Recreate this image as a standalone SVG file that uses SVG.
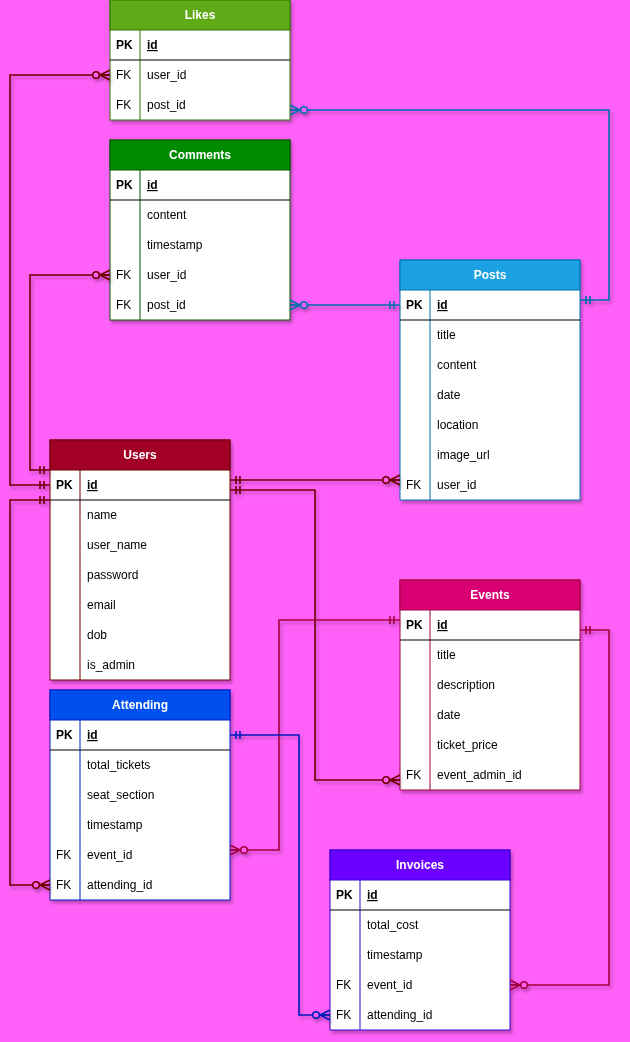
<svg xmlns="http://www.w3.org/2000/svg" width="630" height="1042" viewBox="0 0 630 1042">
<style>
text{font-family:"Liberation Sans",Arial,sans-serif;font-size:12px;fill:#000}
.h{fill:#fff;font-weight:bold;text-anchor:middle}
.k{font-weight:bold}
.u{font-weight:bold;text-decoration:underline}
.body{fill:#fff}
.sep{stroke:#000;stroke-width:1}
.c{fill:none;stroke-width:1.6}
</style>
<defs>
<filter id="sh" x="-10%" y="-10%" width="130%" height="130%">
<feDropShadow dx="2" dy="3" stdDeviation="1.5" flood-color="#000" flood-opacity="0.25"/>
</filter>
<marker id="m-r" viewBox="0 0 20 12" refX="20" refY="6" markerWidth="20" markerHeight="12" markerUnits="userSpaceOnUse" orient="auto-start-reverse"><path d="M10,6L20,1M10,6L20,11M10,6L20,6" fill="none" stroke="#6F0000" stroke-width="1.6"/><circle cx="6" cy="6" r="3.3" fill="#FF61F8" stroke="#6F0000" stroke-width="1.6"/></marker>
<marker id="o-r" viewBox="0 0 20 12" refX="20" refY="6" markerWidth="20" markerHeight="12" markerUnits="userSpaceOnUse" orient="auto-start-reverse"><path d="M10,2V10M14,2V10" fill="none" stroke="#6F0000" stroke-width="1.6"/></marker>
<marker id="m-e" viewBox="0 0 20 12" refX="20" refY="6" markerWidth="20" markerHeight="12" markerUnits="userSpaceOnUse" orient="auto-start-reverse"><path d="M10,6L20,1M10,6L20,11M10,6L20,6" fill="none" stroke="#A50040" stroke-width="1.6"/><circle cx="6" cy="6" r="3.3" fill="#FF61F8" stroke="#A50040" stroke-width="1.6"/></marker>
<marker id="o-e" viewBox="0 0 20 12" refX="20" refY="6" markerWidth="20" markerHeight="12" markerUnits="userSpaceOnUse" orient="auto-start-reverse"><path d="M10,2V10M14,2V10" fill="none" stroke="#A50040" stroke-width="1.6"/></marker>
<marker id="m-p" viewBox="0 0 20 12" refX="20" refY="6" markerWidth="20" markerHeight="12" markerUnits="userSpaceOnUse" orient="auto-start-reverse"><path d="M10,6L20,1M10,6L20,11M10,6L20,6" fill="none" stroke="#006EAF" stroke-width="1.6"/><circle cx="6" cy="6" r="3.3" fill="#FF61F8" stroke="#006EAF" stroke-width="1.6"/></marker>
<marker id="o-p" viewBox="0 0 20 12" refX="20" refY="6" markerWidth="20" markerHeight="12" markerUnits="userSpaceOnUse" orient="auto-start-reverse"><path d="M10,2V10M14,2V10" fill="none" stroke="#006EAF" stroke-width="1.6"/></marker>
<marker id="m-a" viewBox="0 0 20 12" refX="20" refY="6" markerWidth="20" markerHeight="12" markerUnits="userSpaceOnUse" orient="auto-start-reverse"><path d="M10,6L20,1M10,6L20,11M10,6L20,6" fill="none" stroke="#001DBC" stroke-width="1.6"/><circle cx="6" cy="6" r="3.3" fill="#FF61F8" stroke="#001DBC" stroke-width="1.6"/></marker>
<marker id="o-a" viewBox="0 0 20 12" refX="20" refY="6" markerWidth="20" markerHeight="12" markerUnits="userSpaceOnUse" orient="auto-start-reverse"><path d="M10,2V10M14,2V10" fill="none" stroke="#001DBC" stroke-width="1.6"/></marker>
</defs>
<rect x="0" y="0" width="630" height="1042" fill="#FF61F8"/>

<g id="likes" filter="url(#sh)">
<rect x="110" y="0" width="180" height="120" class="body" stroke="#2D7600"/>
<rect x="110" y="0" width="180" height="30" fill="#60A917" stroke="#2D7600"/>
<line x1="140" y1="30" x2="140" y2="120" stroke="#2D7600"/>
<line x1="110" y1="60" x2="290" y2="60" class="sep"/>
<text x="200" y="19" class="h">Likes</text>
<text x="116" y="49" class="k">PK</text><text x="147" y="49" class="u">id</text>
<text x="116" y="79">FK</text><text x="147" y="79">user_id</text>
<text x="116" y="109">FK</text><text x="147" y="109">post_id</text>
</g>

<g id="comments" filter="url(#sh)">
<rect x="110" y="140" width="180" height="180" class="body" stroke="#005700"/>
<rect x="110" y="140" width="180" height="30" fill="#008A00" stroke="#005700"/>
<line x1="140" y1="170" x2="140" y2="320" stroke="#005700"/>
<line x1="110" y1="200" x2="290" y2="200" class="sep"/>
<text x="200" y="159" class="h">Comments</text>
<text x="116" y="189" class="k">PK</text><text x="147" y="189" class="u">id</text>
<text x="147" y="219">content</text>
<text x="147" y="249">timestamp</text>
<text x="116" y="279">FK</text><text x="147" y="279">user_id</text>
<text x="116" y="309">FK</text><text x="147" y="309">post_id</text>
</g>

<g id="posts" filter="url(#sh)">
<rect x="400" y="260" width="180" height="240" class="body" stroke="#006EAF"/>
<rect x="400" y="260" width="180" height="30" fill="#1BA1E2" stroke="#006EAF"/>
<line x1="430" y1="290" x2="430" y2="500" stroke="#006EAF"/>
<line x1="400" y1="320" x2="580" y2="320" class="sep"/>
<text x="490" y="279" class="h">Posts</text>
<text x="406" y="309" class="k">PK</text><text x="437" y="309" class="u">id</text>
<text x="437" y="339">title</text>
<text x="437" y="369">content</text>
<text x="437" y="399">date</text>
<text x="437" y="429">location</text>
<text x="437" y="459">image_url</text>
<text x="406" y="489">FK</text><text x="437" y="489">user_id</text>
</g>

<g id="users" filter="url(#sh)">
<rect x="50" y="440" width="180" height="240" class="body" stroke="#6F0000"/>
<rect x="50" y="440" width="180" height="30" fill="#A20025" stroke="#6F0000"/>
<line x1="80" y1="470" x2="80" y2="680" stroke="#6F0000"/>
<line x1="50" y1="500" x2="230" y2="500" class="sep"/>
<text x="140" y="459" class="h">Users</text>
<text x="56" y="489" class="k">PK</text><text x="87" y="489" class="u">id</text>
<text x="87" y="519">name</text>
<text x="87" y="549">user_name</text>
<text x="87" y="579">password</text>
<text x="87" y="609">email</text>
<text x="87" y="639">dob</text>
<text x="87" y="669">is_admin</text>
</g>

<g id="attending" filter="url(#sh)">
<rect x="50" y="690" width="180" height="210" class="body" stroke="#001DBC"/>
<rect x="50" y="690" width="180" height="30" fill="#0050EF" stroke="#001DBC"/>
<line x1="80" y1="720" x2="80" y2="900" stroke="#001DBC"/>
<line x1="50" y1="750" x2="230" y2="750" class="sep"/>
<text x="140" y="709" class="h">Attending</text>
<text x="56" y="739" class="k">PK</text><text x="87" y="739" class="u">id</text>
<text x="87" y="769">total_tickets</text>
<text x="87" y="799">seat_section</text>
<text x="87" y="829">timestamp</text>
<text x="56" y="859">FK</text><text x="87" y="859">event_id</text>
<text x="56" y="889">FK</text><text x="87" y="889">attending_id</text>
</g>

<g id="events" filter="url(#sh)">
<rect x="400" y="580" width="180" height="210" class="body" stroke="#A50040"/>
<rect x="400" y="580" width="180" height="30" fill="#D80073" stroke="#A50040"/>
<line x1="430" y1="610" x2="430" y2="790" stroke="#A50040"/>
<line x1="400" y1="640" x2="580" y2="640" class="sep"/>
<text x="490" y="599" class="h">Events</text>
<text x="406" y="629" class="k">PK</text><text x="437" y="629" class="u">id</text>
<text x="437" y="659">title</text>
<text x="437" y="689">description</text>
<text x="437" y="719">date</text>
<text x="437" y="749">ticket_price</text>
<text x="406" y="779">FK</text><text x="437" y="779">event_admin_id</text>
</g>

<g id="invoices" filter="url(#sh)">
<rect x="330" y="850" width="180" height="180" class="body" stroke="#3700CC"/>
<rect x="330" y="850" width="180" height="30" fill="#6A00FF" stroke="#3700CC"/>
<line x1="360" y1="880" x2="360" y2="1030" stroke="#3700CC"/>
<line x1="330" y1="910" x2="510" y2="910" class="sep"/>
<text x="420" y="869" class="h">Invoices</text>
<text x="336" y="899" class="k">PK</text><text x="367" y="899" class="u">id</text>
<text x="367" y="929">total_cost</text>
<text x="367" y="959">timestamp</text>
<text x="336" y="989">FK</text><text x="367" y="989">event_id</text>
<text x="336" y="1019">FK</text><text x="367" y="1019">attending_id</text>
</g>

<g id="connectors" filter="url(#sh)">
<path d="M110,75H10V485H50" class="c" stroke="#6F0000" marker-start="url(#m-r)" marker-end="url(#o-r)"/>
<path d="M110,275H30V470H50" class="c" stroke="#6F0000" marker-start="url(#m-r)" marker-end="url(#o-r)"/>
<path d="M50,885H10V500H50" class="c" stroke="#6F0000" marker-start="url(#m-r)" marker-end="url(#o-r)"/>
<path d="M400,480H230" class="c" stroke="#6F0000" marker-start="url(#m-r)" marker-end="url(#o-r)"/>
<path d="M400,780H315V490H230" class="c" stroke="#6F0000" marker-start="url(#m-r)" marker-end="url(#o-r)"/>
<path d="M230,850H279V620H400" class="c" stroke="#A50040" marker-start="url(#m-e)" marker-end="url(#o-e)"/>
<path d="M510,985H609V630H580" class="c" stroke="#A50040" marker-start="url(#m-e)" marker-end="url(#o-e)"/>
<path d="M330,1015H299V735H230" class="c" stroke="#001DBC" marker-start="url(#m-a)" marker-end="url(#o-a)"/>
<path d="M290,110H609V300H580" class="c" stroke="#006EAF" marker-start="url(#m-p)" marker-end="url(#o-p)"/>
<path d="M290,305H400" class="c" stroke="#006EAF" marker-start="url(#m-p)" marker-end="url(#o-p)"/>
</g>
</svg>
